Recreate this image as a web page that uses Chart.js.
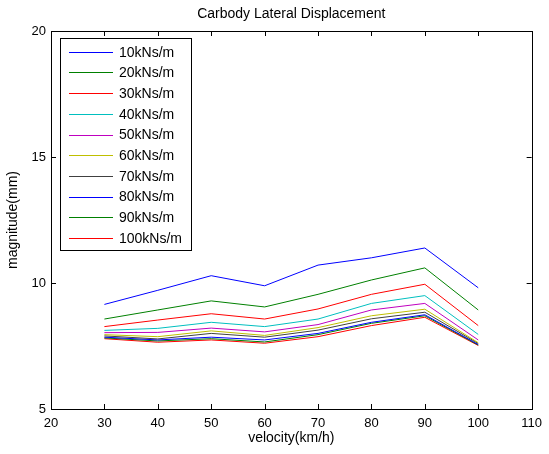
<!DOCTYPE html>
<html>
<head>
<meta charset="utf-8">
<script src="https://cdn.jsdelivr.net/npm/chart.js@4/dist/chart.umd.min.js"></script>
<style>
  body { margin: 0; background: #fff; }
  #wrap { width: 549px; height: 454px; position: relative; }
</style>
</head>
<body>
<div id="wrap"><canvas id="graf"></canvas></div>
<script>
const velocity = [30, 40, 50, 60, 70, 80, 90, 100]
const labels = ['10kNs/m', '20kNs/m', '30kNs/m', '40kNs/m', '50kNs/m', '60kNs/m', '70kNs/m', '80kNs/m', '90kNs/m', '100kNs/m']
const d10  = [9.15, 9.71, 10.29, 9.89, 10.71, 11.00, 11.39, 9.81]
const d20  = [8.57, 8.93, 9.29, 9.05, 9.55, 10.12, 10.60, 8.93]
const d30  = [8.27, 8.53, 8.78, 8.57, 8.97, 9.55, 9.95, 8.31]
const d40  = [8.12, 8.20, 8.44, 8.27, 8.57, 9.19, 9.50, 7.96]
const d50  = [8.03, 8.04, 8.21, 8.06, 8.35, 8.93, 9.19, 7.74]
const d60  = [7.95, 7.87, 8.10, 7.92, 8.23, 8.70, 8.96, 7.63]
const d70  = [7.90, 7.78, 8.00, 7.85, 8.13, 8.58, 8.84, 7.60]
const d80  = [7.85, 7.74, 7.85, 7.74, 8.00, 8.44, 8.74, 7.56]
const d90  = [7.82, 7.70, 7.79, 7.66, 7.95, 8.40, 8.70, 7.54]
const d100 = [7.79, 7.65, 7.74, 7.61, 7.87, 8.31, 8.64, 7.52]
const xTicks = [20, 30, 40, 50, 60, 70, 80, 90, 100, 110]
const yTicks = [5, 10, 15, 20]

const series = [d10, d20, d30, d40, d50, d60, d70, d80, d90, d100]
// matlab default color order, repeats after 7
const colors = ['#0000ff', '#008000', '#ff0000', '#00bfbf', '#bf00bf', '#bfbf00', '#404040']
const font = '"Liberation Sans", Arial, sans-serif'

const datasets = series.map((s, i) => ({
  label: labels[i],
  data: s.map((v, j) => ({x: velocity[j], y: v})),
  borderColor: colors[i % 7],
  backgroundColor: colors[i % 7],
  borderWidth: 1,
  pointRadius: 0,
  tension: 0,
  fill: false
}))

const matlabBox = {
  id: 'matlabBox',
  afterDraw(chart) {
    const ctx = chart.ctx
    const a = chart.chartArea
    const xs = chart.scales.x, ys = chart.scales.y
    ctx.save()
    ctx.strokeStyle = '#000'
    ctx.lineWidth = 1
    ctx.strokeRect(Math.round(a.left) + 0.5, Math.round(a.top) + 0.5, Math.round(a.right - a.left), Math.round(a.bottom - a.top))
    // inward ticks
    ctx.beginPath()
    xTicks.forEach(t => {
      const px = Math.round(xs.getPixelForValue(t)) + 0.5
      ctx.moveTo(px, a.bottom); ctx.lineTo(px, a.bottom - 5)
      ctx.moveTo(px, a.top); ctx.lineTo(px, a.top + 5)
    })
    yTicks.forEach(t => {
      const py = Math.round(ys.getPixelForValue(t)) + 0.5
      ctx.moveTo(a.left, py); ctx.lineTo(a.left + 5, py)
      ctx.moveTo(a.right, py); ctx.lineTo(a.right - 5, py)
    })
    ctx.stroke()

    // title
    ctx.fillStyle = '#000'
    ctx.font = '14px ' + font
    ctx.textAlign = 'center'
    ctx.textBaseline = 'middle'
    ctx.fillText('Carbody Lateral Displacement', (a.left + a.right) / 2, 14)

    // legend
    const lx = 60.5, ly = 38.5, lw = 131, lh = 212
    ctx.fillStyle = '#fff'
    ctx.fillRect(lx, ly, lw, lh)
    ctx.strokeRect(lx, ly, lw, lh)
    ctx.textAlign = 'left'
    labels.forEach((lab, i) => {
      const y = 51.7 + i * 20.7
      ctx.strokeStyle = colors[i % 7]
      ctx.beginPath()
      ctx.moveTo(69, Math.round(y) + 0.5)
      ctx.lineTo(113, Math.round(y) + 0.5)
      ctx.stroke()
      ctx.fillStyle = '#000'
      ctx.fillText(lab, 119, y + 1)
    })
    ctx.restore()
  }
}

new Chart(document.getElementById('graf'), {
  type: 'line',
  data: { datasets: datasets },
  options: {
    responsive: true,
    maintainAspectRatio: false,
    animation: false,
    layout: { padding: { top: 31, right: 13, left: 0, bottom: 0 } },
    plugins: {
      legend: { display: false },
      title: { display: false },
      tooltip: { enabled: false }
    },
    scales: {
      x: {
        type: 'linear',
        min: 20, max: 110,
        afterFit(scale) { scale.height = 45 },
        afterBuildTicks(scale) { scale.ticks = xTicks.map(v => ({value: v})) },
        grid: { drawOnChartArea: false, drawTicks: false },
        border: { display: false },
        ticks: { color: '#000', font: { family: font, size: 13 }, padding: 7, maxRotation: 0 },
        title: { display: true, text: 'velocity(km/h)', color: '#000', font: { family: font, size: 14 }, padding: { top: 0, bottom: 7 } }
      },
      y: {
        min: 5, max: 20,
        afterFit(scale) { scale.width = 51 },
        afterBuildTicks(scale) { scale.ticks = yTicks.map(v => ({value: v})) },
        grid: { drawOnChartArea: false, drawTicks: false },
        border: { display: false },
        ticks: { color: '#000', font: { family: font, size: 13 }, padding: 5 },
        title: { display: true, text: 'magnitude(mm)', color: '#000', font: { family: font, size: 14 }, padding: { top: 5, bottom: 0 } }
      }
    }
  },
  plugins: [matlabBox]
})
</script>
</body>
</html>
